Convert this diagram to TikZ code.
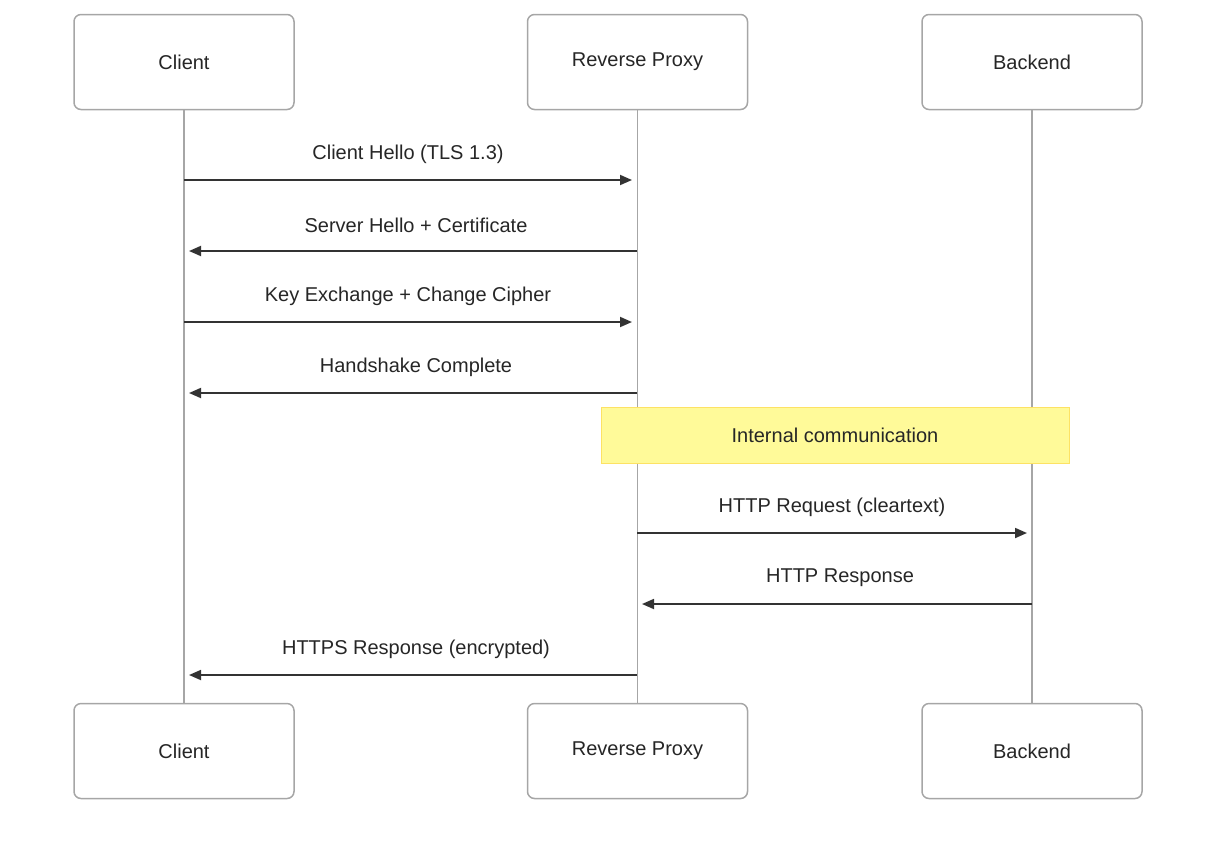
\documentclass[tikz,border=0pt]{standalone}
\usepackage{fontspec}
\setmainfont{Liberation Sans}
\usetikzlibrary{arrows.meta}
\begin{document}
\begin{tikzpicture}[x=1pt,y=-1pt,
  actor/.style={draw=black!35,line width=1.5pt,rounded corners=7pt,fill=white,minimum width=220pt,minimum height=95pt,font=\fontsize{20}{24}\selectfont,text=black!85},
  life/.style={draw=black!35,line width=1.5pt},
  msg/.style={draw=black!80,line width=1.8pt,-{Triangle[length=12pt,width=10pt]}},
  lbl/.style={font=\fontsize{20}{24}\selectfont,text=black!85},
  note/.style={draw=yellow!70!orange!60,line width=1pt,fill=yellow!40,minimum width=468pt,minimum height=56pt,font=\fontsize{20}{24}\selectfont,text=black!85}]
\useasboundingbox (0,0) rectangle (1217,860);
\node[actor] (c1) at (184,62) {Client};
\node[actor] (p1) at (637.5,62) {Reverse Proxy};
\node[actor] (b1) at (1032,62) {Backend};
\node[actor] (c2) at (184,751) {Client};
\node[actor] (p2) at (637.5,751) {Reverse Proxy};
\node[actor] (b2) at (1032,751) {Backend};
\draw[life] (c1) -- (c2);
\draw[life] (p1) -- (p2);
\draw[life] (b1) -- (b2);
\node[note] (n) at (835,435) {Internal communication};
\foreach \y/\a/\b/\t/\m in {180/184/632/{Client Hello (TLS 1.3)}/408, 251/637/189/{Server Hello + Certificate}/416, 322/184/632/{Key Exchange + Change Cipher}/408, 393/637/189/{Handshake Complete}/416, 533/637/1027/{HTTP Request (cleartext)}/832, 604/1032/642/{HTTP Response}/840, 675/637/189/{HTTPS Response (encrypted)}/416}{
  \coordinate (s) at (\a,\y); \coordinate (e) at (\b,\y);
  \draw[msg] (s) -- (e);
  \node[lbl] (l) at (\m,\y-26) {\t};
}
\end{tikzpicture}
\end{document}
